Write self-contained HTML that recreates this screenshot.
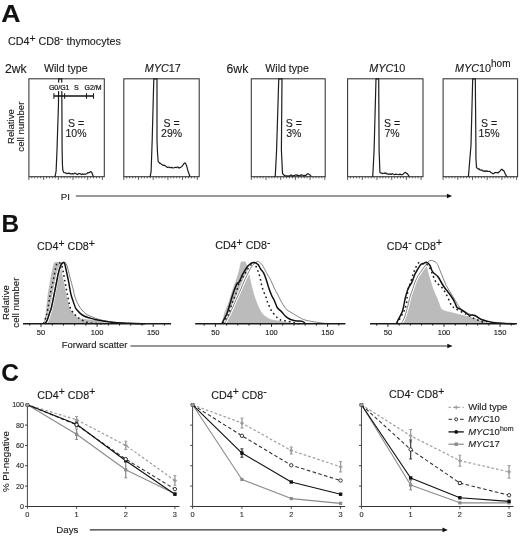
<!DOCTYPE html>
<html><head><meta charset="utf-8"><title>Figure</title>
<style>
html,body{margin:0;padding:0;background:#fff;}
body{width:520px;height:536px;overflow:hidden;}
svg{display:block;font-family:"Liberation Sans", sans-serif;will-change:transform;}
text{stroke:#1b1b1b;stroke-width:0.13px;}
</style></head>
<body>
<svg width="520" height="536" viewBox="0 0 520 536">
<rect width="520" height="536" fill="#fff"/>
<text x="1.3" y="22.0" font-size="24" font-weight="bold" fill="#111" transform="translate(1.3,0) scale(1.11,1) translate(-1.3,0)">A</text>
<text x="8.0" y="45.1" font-size="10.75" fill="#1b1b1b">CD4<tspan font-size="10.4" dy="-3.4">+</tspan><tspan dy="3.4"> CD8</tspan><tspan font-size="10.4" dy="-3.4">-</tspan><tspan dy="3.4"> thymocytes</tspan></text>
<text x="5" y="72.5" font-size="12.2" fill="#1b1b1b">2wk</text>
<text x="226.6" y="72.5" font-size="12.2" fill="#1b1b1b">6wk</text>
<text x="44" y="71.6" font-size="10.6" fill="#1b1b1b">Wild type</text>
<text x="265.3" y="71.6" font-size="10.6" fill="#1b1b1b">Wild type</text>
<text x="144.8" y="72.3" font-size="10.8" fill="#1b1b1b"><tspan font-style="italic">MYC</tspan>17</text>
<text x="369.3" y="72.3" font-size="10.8" fill="#1b1b1b"><tspan font-style="italic">MYC</tspan>10</text>
<text x="455.0" y="72.3" font-size="10.8" fill="#1b1b1b"><tspan font-style="italic">MYC</tspan>10<tspan font-size="10" dy="-5">hom</tspan></text>
<text transform="translate(13.9,126.6) rotate(-90)" font-size="9.7" text-anchor="middle" fill="#1b1b1b">Relative</text>
<text transform="translate(23.5,126.6) rotate(-90)" font-size="9.7" text-anchor="middle" fill="#1b1b1b">cell number</text>
<rect x="28.9" y="78.8" width="75.4" height="97.9" fill="none" stroke="#3a3a3a" stroke-width="1.1"/>
<line x1="28.9" y1="176.7" x2="28.9" y2="179.9" stroke="#333" stroke-width="0.8"/>
<line x1="31.84" y1="176.7" x2="31.84" y2="178.3" stroke="#333" stroke-width="0.8"/>
<line x1="34.78" y1="176.7" x2="34.78" y2="178.3" stroke="#333" stroke-width="0.8"/>
<line x1="37.72" y1="176.7" x2="37.72" y2="178.3" stroke="#333" stroke-width="0.8"/>
<line x1="40.66" y1="176.7" x2="40.66" y2="178.3" stroke="#333" stroke-width="0.8"/>
<line x1="43.6" y1="176.7" x2="43.6" y2="179.9" stroke="#333" stroke-width="0.8"/>
<line x1="46.54" y1="176.7" x2="46.54" y2="178.3" stroke="#333" stroke-width="0.8"/>
<line x1="49.48" y1="176.7" x2="49.48" y2="178.3" stroke="#333" stroke-width="0.8"/>
<line x1="52.42" y1="176.7" x2="52.42" y2="178.3" stroke="#333" stroke-width="0.8"/>
<line x1="55.36" y1="176.7" x2="55.36" y2="178.3" stroke="#333" stroke-width="0.8"/>
<line x1="58.3" y1="176.7" x2="58.3" y2="179.9" stroke="#333" stroke-width="0.8"/>
<line x1="61.24" y1="176.7" x2="61.24" y2="178.3" stroke="#333" stroke-width="0.8"/>
<line x1="64.18" y1="176.7" x2="64.18" y2="178.3" stroke="#333" stroke-width="0.8"/>
<line x1="67.12" y1="176.7" x2="67.12" y2="178.3" stroke="#333" stroke-width="0.8"/>
<line x1="70.06" y1="176.7" x2="70.06" y2="178.3" stroke="#333" stroke-width="0.8"/>
<line x1="73" y1="176.7" x2="73" y2="179.9" stroke="#333" stroke-width="0.8"/>
<line x1="75.94" y1="176.7" x2="75.94" y2="178.3" stroke="#333" stroke-width="0.8"/>
<line x1="78.88" y1="176.7" x2="78.88" y2="178.3" stroke="#333" stroke-width="0.8"/>
<line x1="81.82" y1="176.7" x2="81.82" y2="178.3" stroke="#333" stroke-width="0.8"/>
<line x1="84.76" y1="176.7" x2="84.76" y2="178.3" stroke="#333" stroke-width="0.8"/>
<line x1="87.7" y1="176.7" x2="87.7" y2="179.9" stroke="#333" stroke-width="0.8"/>
<line x1="90.64" y1="176.7" x2="90.64" y2="178.3" stroke="#333" stroke-width="0.8"/>
<line x1="93.58" y1="176.7" x2="93.58" y2="178.3" stroke="#333" stroke-width="0.8"/>
<line x1="96.52" y1="176.7" x2="96.52" y2="178.3" stroke="#333" stroke-width="0.8"/>
<line x1="99.46" y1="176.7" x2="99.46" y2="178.3" stroke="#333" stroke-width="0.8"/>
<line x1="102.4" y1="176.7" x2="102.4" y2="179.9" stroke="#333" stroke-width="0.8"/>
<rect x="123.8" y="78.8" width="75.4" height="97.9" fill="none" stroke="#3a3a3a" stroke-width="1.1"/>
<line x1="123.8" y1="176.7" x2="123.8" y2="179.9" stroke="#333" stroke-width="0.8"/>
<line x1="126.74" y1="176.7" x2="126.74" y2="178.3" stroke="#333" stroke-width="0.8"/>
<line x1="129.68" y1="176.7" x2="129.68" y2="178.3" stroke="#333" stroke-width="0.8"/>
<line x1="132.62" y1="176.7" x2="132.62" y2="178.3" stroke="#333" stroke-width="0.8"/>
<line x1="135.56" y1="176.7" x2="135.56" y2="178.3" stroke="#333" stroke-width="0.8"/>
<line x1="138.5" y1="176.7" x2="138.5" y2="179.9" stroke="#333" stroke-width="0.8"/>
<line x1="141.44" y1="176.7" x2="141.44" y2="178.3" stroke="#333" stroke-width="0.8"/>
<line x1="144.38" y1="176.7" x2="144.38" y2="178.3" stroke="#333" stroke-width="0.8"/>
<line x1="147.32" y1="176.7" x2="147.32" y2="178.3" stroke="#333" stroke-width="0.8"/>
<line x1="150.26" y1="176.7" x2="150.26" y2="178.3" stroke="#333" stroke-width="0.8"/>
<line x1="153.2" y1="176.7" x2="153.2" y2="179.9" stroke="#333" stroke-width="0.8"/>
<line x1="156.14" y1="176.7" x2="156.14" y2="178.3" stroke="#333" stroke-width="0.8"/>
<line x1="159.08" y1="176.7" x2="159.08" y2="178.3" stroke="#333" stroke-width="0.8"/>
<line x1="162.02" y1="176.7" x2="162.02" y2="178.3" stroke="#333" stroke-width="0.8"/>
<line x1="164.96" y1="176.7" x2="164.96" y2="178.3" stroke="#333" stroke-width="0.8"/>
<line x1="167.9" y1="176.7" x2="167.9" y2="179.9" stroke="#333" stroke-width="0.8"/>
<line x1="170.84" y1="176.7" x2="170.84" y2="178.3" stroke="#333" stroke-width="0.8"/>
<line x1="173.78" y1="176.7" x2="173.78" y2="178.3" stroke="#333" stroke-width="0.8"/>
<line x1="176.72" y1="176.7" x2="176.72" y2="178.3" stroke="#333" stroke-width="0.8"/>
<line x1="179.66" y1="176.7" x2="179.66" y2="178.3" stroke="#333" stroke-width="0.8"/>
<line x1="182.6" y1="176.7" x2="182.6" y2="179.9" stroke="#333" stroke-width="0.8"/>
<line x1="185.54" y1="176.7" x2="185.54" y2="178.3" stroke="#333" stroke-width="0.8"/>
<line x1="188.48" y1="176.7" x2="188.48" y2="178.3" stroke="#333" stroke-width="0.8"/>
<line x1="191.42" y1="176.7" x2="191.42" y2="178.3" stroke="#333" stroke-width="0.8"/>
<line x1="194.36" y1="176.7" x2="194.36" y2="178.3" stroke="#333" stroke-width="0.8"/>
<line x1="197.3" y1="176.7" x2="197.3" y2="179.9" stroke="#333" stroke-width="0.8"/>
<rect x="251.3" y="78.8" width="73.9" height="97.9" fill="none" stroke="#3a3a3a" stroke-width="1.1"/>
<line x1="251.3" y1="176.7" x2="251.3" y2="179.9" stroke="#333" stroke-width="0.8"/>
<line x1="254.24" y1="176.7" x2="254.24" y2="178.3" stroke="#333" stroke-width="0.8"/>
<line x1="257.18" y1="176.7" x2="257.18" y2="178.3" stroke="#333" stroke-width="0.8"/>
<line x1="260.12" y1="176.7" x2="260.12" y2="178.3" stroke="#333" stroke-width="0.8"/>
<line x1="263.06" y1="176.7" x2="263.06" y2="178.3" stroke="#333" stroke-width="0.8"/>
<line x1="266" y1="176.7" x2="266" y2="179.9" stroke="#333" stroke-width="0.8"/>
<line x1="268.94" y1="176.7" x2="268.94" y2="178.3" stroke="#333" stroke-width="0.8"/>
<line x1="271.88" y1="176.7" x2="271.88" y2="178.3" stroke="#333" stroke-width="0.8"/>
<line x1="274.82" y1="176.7" x2="274.82" y2="178.3" stroke="#333" stroke-width="0.8"/>
<line x1="277.76" y1="176.7" x2="277.76" y2="178.3" stroke="#333" stroke-width="0.8"/>
<line x1="280.7" y1="176.7" x2="280.7" y2="179.9" stroke="#333" stroke-width="0.8"/>
<line x1="283.64" y1="176.7" x2="283.64" y2="178.3" stroke="#333" stroke-width="0.8"/>
<line x1="286.58" y1="176.7" x2="286.58" y2="178.3" stroke="#333" stroke-width="0.8"/>
<line x1="289.52" y1="176.7" x2="289.52" y2="178.3" stroke="#333" stroke-width="0.8"/>
<line x1="292.46" y1="176.7" x2="292.46" y2="178.3" stroke="#333" stroke-width="0.8"/>
<line x1="295.4" y1="176.7" x2="295.4" y2="179.9" stroke="#333" stroke-width="0.8"/>
<line x1="298.34" y1="176.7" x2="298.34" y2="178.3" stroke="#333" stroke-width="0.8"/>
<line x1="301.28" y1="176.7" x2="301.28" y2="178.3" stroke="#333" stroke-width="0.8"/>
<line x1="304.22" y1="176.7" x2="304.22" y2="178.3" stroke="#333" stroke-width="0.8"/>
<line x1="307.16" y1="176.7" x2="307.16" y2="178.3" stroke="#333" stroke-width="0.8"/>
<line x1="310.1" y1="176.7" x2="310.1" y2="179.9" stroke="#333" stroke-width="0.8"/>
<line x1="313.04" y1="176.7" x2="313.04" y2="178.3" stroke="#333" stroke-width="0.8"/>
<line x1="315.98" y1="176.7" x2="315.98" y2="178.3" stroke="#333" stroke-width="0.8"/>
<line x1="318.92" y1="176.7" x2="318.92" y2="178.3" stroke="#333" stroke-width="0.8"/>
<line x1="321.86" y1="176.7" x2="321.86" y2="178.3" stroke="#333" stroke-width="0.8"/>
<line x1="324.8" y1="176.7" x2="324.8" y2="179.9" stroke="#333" stroke-width="0.8"/>
<rect x="347.6" y="78.8" width="75.4" height="97.9" fill="none" stroke="#3a3a3a" stroke-width="1.1"/>
<line x1="347.6" y1="176.7" x2="347.6" y2="179.9" stroke="#333" stroke-width="0.8"/>
<line x1="350.54" y1="176.7" x2="350.54" y2="178.3" stroke="#333" stroke-width="0.8"/>
<line x1="353.48" y1="176.7" x2="353.48" y2="178.3" stroke="#333" stroke-width="0.8"/>
<line x1="356.42" y1="176.7" x2="356.42" y2="178.3" stroke="#333" stroke-width="0.8"/>
<line x1="359.36" y1="176.7" x2="359.36" y2="178.3" stroke="#333" stroke-width="0.8"/>
<line x1="362.3" y1="176.7" x2="362.3" y2="179.9" stroke="#333" stroke-width="0.8"/>
<line x1="365.24" y1="176.7" x2="365.24" y2="178.3" stroke="#333" stroke-width="0.8"/>
<line x1="368.18" y1="176.7" x2="368.18" y2="178.3" stroke="#333" stroke-width="0.8"/>
<line x1="371.12" y1="176.7" x2="371.12" y2="178.3" stroke="#333" stroke-width="0.8"/>
<line x1="374.06" y1="176.7" x2="374.06" y2="178.3" stroke="#333" stroke-width="0.8"/>
<line x1="377" y1="176.7" x2="377" y2="179.9" stroke="#333" stroke-width="0.8"/>
<line x1="379.94" y1="176.7" x2="379.94" y2="178.3" stroke="#333" stroke-width="0.8"/>
<line x1="382.88" y1="176.7" x2="382.88" y2="178.3" stroke="#333" stroke-width="0.8"/>
<line x1="385.82" y1="176.7" x2="385.82" y2="178.3" stroke="#333" stroke-width="0.8"/>
<line x1="388.76" y1="176.7" x2="388.76" y2="178.3" stroke="#333" stroke-width="0.8"/>
<line x1="391.7" y1="176.7" x2="391.7" y2="179.9" stroke="#333" stroke-width="0.8"/>
<line x1="394.64" y1="176.7" x2="394.64" y2="178.3" stroke="#333" stroke-width="0.8"/>
<line x1="397.58" y1="176.7" x2="397.58" y2="178.3" stroke="#333" stroke-width="0.8"/>
<line x1="400.52" y1="176.7" x2="400.52" y2="178.3" stroke="#333" stroke-width="0.8"/>
<line x1="403.46" y1="176.7" x2="403.46" y2="178.3" stroke="#333" stroke-width="0.8"/>
<line x1="406.4" y1="176.7" x2="406.4" y2="179.9" stroke="#333" stroke-width="0.8"/>
<line x1="409.34" y1="176.7" x2="409.34" y2="178.3" stroke="#333" stroke-width="0.8"/>
<line x1="412.28" y1="176.7" x2="412.28" y2="178.3" stroke="#333" stroke-width="0.8"/>
<line x1="415.22" y1="176.7" x2="415.22" y2="178.3" stroke="#333" stroke-width="0.8"/>
<line x1="418.16" y1="176.7" x2="418.16" y2="178.3" stroke="#333" stroke-width="0.8"/>
<line x1="421.1" y1="176.7" x2="421.1" y2="179.9" stroke="#333" stroke-width="0.8"/>
<rect x="443.1" y="78.8" width="74.5" height="97.9" fill="none" stroke="#3a3a3a" stroke-width="1.1"/>
<line x1="443.1" y1="176.7" x2="443.1" y2="179.9" stroke="#333" stroke-width="0.8"/>
<line x1="446.04" y1="176.7" x2="446.04" y2="178.3" stroke="#333" stroke-width="0.8"/>
<line x1="448.98" y1="176.7" x2="448.98" y2="178.3" stroke="#333" stroke-width="0.8"/>
<line x1="451.92" y1="176.7" x2="451.92" y2="178.3" stroke="#333" stroke-width="0.8"/>
<line x1="454.86" y1="176.7" x2="454.86" y2="178.3" stroke="#333" stroke-width="0.8"/>
<line x1="457.8" y1="176.7" x2="457.8" y2="179.9" stroke="#333" stroke-width="0.8"/>
<line x1="460.74" y1="176.7" x2="460.74" y2="178.3" stroke="#333" stroke-width="0.8"/>
<line x1="463.68" y1="176.7" x2="463.68" y2="178.3" stroke="#333" stroke-width="0.8"/>
<line x1="466.62" y1="176.7" x2="466.62" y2="178.3" stroke="#333" stroke-width="0.8"/>
<line x1="469.56" y1="176.7" x2="469.56" y2="178.3" stroke="#333" stroke-width="0.8"/>
<line x1="472.5" y1="176.7" x2="472.5" y2="179.9" stroke="#333" stroke-width="0.8"/>
<line x1="475.44" y1="176.7" x2="475.44" y2="178.3" stroke="#333" stroke-width="0.8"/>
<line x1="478.38" y1="176.7" x2="478.38" y2="178.3" stroke="#333" stroke-width="0.8"/>
<line x1="481.32" y1="176.7" x2="481.32" y2="178.3" stroke="#333" stroke-width="0.8"/>
<line x1="484.26" y1="176.7" x2="484.26" y2="178.3" stroke="#333" stroke-width="0.8"/>
<line x1="487.2" y1="176.7" x2="487.2" y2="179.9" stroke="#333" stroke-width="0.8"/>
<line x1="490.14" y1="176.7" x2="490.14" y2="178.3" stroke="#333" stroke-width="0.8"/>
<line x1="493.08" y1="176.7" x2="493.08" y2="178.3" stroke="#333" stroke-width="0.8"/>
<line x1="496.02" y1="176.7" x2="496.02" y2="178.3" stroke="#333" stroke-width="0.8"/>
<line x1="498.96" y1="176.7" x2="498.96" y2="178.3" stroke="#333" stroke-width="0.8"/>
<line x1="501.9" y1="176.7" x2="501.9" y2="179.9" stroke="#333" stroke-width="0.8"/>
<line x1="504.84" y1="176.7" x2="504.84" y2="178.3" stroke="#333" stroke-width="0.8"/>
<line x1="507.78" y1="176.7" x2="507.78" y2="178.3" stroke="#333" stroke-width="0.8"/>
<line x1="510.72" y1="176.7" x2="510.72" y2="178.3" stroke="#333" stroke-width="0.8"/>
<line x1="513.66" y1="176.7" x2="513.66" y2="178.3" stroke="#333" stroke-width="0.8"/>
<line x1="516.6" y1="176.7" x2="516.6" y2="179.9" stroke="#333" stroke-width="0.8"/>
<polyline points="54.5,176.7 55.3,175.5 56.1,171.2 57,150 58.45,105 58.7,78.8 61.7,78.8 61.9,105 62.1,150 62.5,166 62.9,170.6 63.8,172.5 64.8,172.8 65.65,172.81 66.5,173.6 67.5,173.42 68.5,173.1 69.5,173.3 70.5,173.9 71.5,173.91 72.5,173.6 73.5,173.91 74.5,173.2 75.5,173.24 76.5,174.1 77.5,174.53 78.5,173.59 79.5,173.48 80.5,173.8 81.38,174.6 82.26,173.88 83.14,174.48 84.02,174 84.9,174.1 85.95,174.06 87,173.6 87.8,172.68 88.6,172.8 89.65,172.35 90.7,171.5 91.8,172.5 93.4,176.7" fill="none" stroke="#1e1e1e" stroke-width="1.2" stroke-linejoin="round"/>
<polyline points="149.5,176.7 150.3,175.8 151.1,171.7 152.2,140 153.8,78.8 157,78.8 157,140 157.5,152.7 158.2,161.7 159,162.2 159.8,163.5 160.65,163.4 161.5,164.5 162.25,164.79 163,165.4 163.8,165.16 164.6,165.3 165.4,166.08 166.2,166.5 167.13,167.29 168.07,167.28 169,167 170,167.7 171,167.6 171.87,167.32 172.73,167.92 173.6,168 174.57,167.53 175.53,167.24 176.5,167.6 177.35,166.98 178.2,167.12 179.05,168.17 179.9,167.5 180.7,167.34 181.5,166.66 182.3,166 183.1,164.9 184.05,163.39 185,162.8 185.75,163.81 186.5,165.4 187.9,170.7 190,176.7" fill="none" stroke="#1e1e1e" stroke-width="1.2" stroke-linejoin="round"/>
<polyline points="274.6,176.7 275.3,175.5 276.6,150 278.75,78.8 282,78.8 281.4,150 282.5,173.3 283.4,174.53 284.3,175.4 285.25,175.8 286.2,175.91 287.15,176.16 288.1,175.89 289.05,176.2 290,175.6 290.83,174.84 291.67,175.45 292.5,176.12 293.33,175.62 294.17,175.95 295,175.3 295.83,174.77 296.67,175.35 297.5,175.07 298.33,175.57 299.17,175.66 300,175.6 300.98,174.81 301.96,175.06 302.94,175.09 303.92,175.98 304.9,175.3 305.7,175.45 306.5,174.8 307.55,173.79 308.6,173.8 309.3,174.75 310,174.8 311.3,176.7" fill="none" stroke="#1e1e1e" stroke-width="1.2" stroke-linejoin="round"/>
<polyline points="372.2,176.7 372.8,175.6 374.1,150 376,78.8 378.7,78.8 379.1,150 379.9,172.2 380.85,173.09 381.8,173.1 382.6,173.66 383.4,173.23 384.2,172.97 385,173.4 385.84,172.79 386.68,173.92 387.52,173.78 388.36,174.35 389.2,174.1 390.15,173.88 391.1,174.46 392.05,173.68 393,174 394,174.55 395,174.54 396,174.17 397,174.4 397.98,174.5 398.96,174.75 399.94,174.06 400.92,174.64 401.9,174.6 402.75,174.61 403.6,173.7 404.6,172.7 405.6,172.4 406.45,173.46 407.3,173.6 409.3,176.7" fill="none" stroke="#1e1e1e" stroke-width="1.2" stroke-linejoin="round"/>
<polyline points="467.8,176.7 468.5,175.6 471,145 472.7,78.8 475.3,78.8 475.9,145 475.9,157.7 476.5,167.8 477.4,168.19 478.3,169.1 479.2,168.94 480.1,170.06 481,170.2 481.8,169.88 482.6,170.9 483.4,170.97 484.2,171.5 485.04,170.84 485.88,171.51 486.72,170.81 487.56,171.4 488.4,171.5 489.27,171.22 490.13,171.62 491,172.6 491.9,172.82 492.8,173.76 493.7,173.6 494.63,172.7 495.57,172.52 496.5,172.6 497.33,172.59 498.17,172.87 499,172 499.97,171.15 500.93,169.91 501.9,169.1 502.8,170.46 503.7,170.4 505.1,173.6 506.9,176.7" fill="none" stroke="#1e1e1e" stroke-width="1.2" stroke-linejoin="round"/>
<rect x="48.6" y="82.6" width="21.2" height="8.5" fill="#fff"/>
<text x="48.9" y="89.5" font-size="7.0" fill="#1b1b1b" style="stroke-width:0.24px">G0/G1</text>
<text x="73.9" y="89.5" font-size="7.0" fill="#1b1b1b" style="stroke-width:0.24px">S</text>
<text x="84.5" y="89.5" font-size="7.0" fill="#1b1b1b" style="stroke-width:0.24px">G2/M</text>
<line x1="53.9" y1="96" x2="93.5" y2="96" stroke="#111" stroke-width="1.3"/>
<line x1="53.9" y1="93.2" x2="53.9" y2="98.8" stroke="#1e1e1e" stroke-width="1.1"/>
<line x1="64.6" y1="93.2" x2="64.6" y2="98.8" stroke="#1e1e1e" stroke-width="1.1"/>
<line x1="86.5" y1="93.2" x2="86.5" y2="98.8" stroke="#1e1e1e" stroke-width="1.1"/>
<line x1="93.5" y1="93.2" x2="93.5" y2="98.8" stroke="#1e1e1e" stroke-width="1.1"/>
<text x="76" y="126.9" font-size="10.5" text-anchor="middle" fill="#1b1b1b">S =</text>
<text x="76" y="137.1" font-size="10.5" text-anchor="middle" fill="#1b1b1b">10%</text>
<text x="171.6" y="126.9" font-size="10.5" text-anchor="middle" fill="#1b1b1b">S =</text>
<text x="171.6" y="137.1" font-size="10.5" text-anchor="middle" fill="#1b1b1b">29%</text>
<text x="293.8" y="126.9" font-size="10.5" text-anchor="middle" fill="#1b1b1b">S =</text>
<text x="293.8" y="137.1" font-size="10.5" text-anchor="middle" fill="#1b1b1b">3%</text>
<text x="392" y="126.9" font-size="10.5" text-anchor="middle" fill="#1b1b1b">S =</text>
<text x="392" y="137.1" font-size="10.5" text-anchor="middle" fill="#1b1b1b">7%</text>
<text x="489.1" y="126.9" font-size="10.5" text-anchor="middle" fill="#1b1b1b">S =</text>
<text x="489.1" y="137.1" font-size="10.5" text-anchor="middle" fill="#1b1b1b">15%</text>
<text x="60.7" y="199.7" font-size="9.7" fill="#1b1b1b">PI</text>
<line x1="75.8" y1="196" x2="447.4" y2="196" stroke="#333" stroke-width="1.2"/>
<polygon points="452.2,196 446.9,193.7 446.9,198.3" fill="#111"/>
<text x="1.5" y="231.8" font-size="24.4" font-weight="bold" fill="#111">B</text>
<text x="37" y="250.1" font-size="10.7" fill="#1b1b1b">CD4<tspan font-size="10.4" dy="-3.4">+</tspan><tspan dy="3.4"> CD8</tspan><tspan font-size="10.4" dy="-3.4">+</tspan></text>
<text x="215.2" y="249.2" font-size="10.7" fill="#1b1b1b">CD4<tspan font-size="10.4" dy="-3.4">+</tspan><tspan dy="3.4"> CD8</tspan><tspan font-size="10.4" dy="-3.4">-</tspan></text>
<text x="386.8" y="249.5" font-size="10.7" fill="#1b1b1b">CD4<tspan font-size="10.4" dy="-3.4">-</tspan><tspan dy="3.4"> CD8</tspan><tspan font-size="10.4" dy="-3.4">+</tspan></text>
<text transform="translate(9.1,302.6) rotate(-90)" font-size="9.7" text-anchor="middle" fill="#1b1b1b">Relative</text>
<text transform="translate(18.7,302.6) rotate(-90)" font-size="9.7" text-anchor="middle" fill="#1b1b1b">cell number</text>
<path d="M42.5,323.8 C42.73,323.33 43.4,322.47 43.9,321 C44.4,319.53 45.03,317.83 45.5,315 C45.97,312.17 46.32,307.5 46.7,304 C47.08,300.5 47.33,297.33 47.8,294 C48.27,290.67 48.95,287.23 49.5,284 C50.05,280.77 50.55,277.43 51.1,274.6 C51.65,271.77 52.25,269 52.8,267 C53.35,265 53.7,263.43 54.4,262.6 C55.1,261.77 56.13,262.07 57,262 C57.87,261.93 58.95,261.95 59.6,262.2 C60.25,262.45 60.57,262.53 60.9,263.5 C61.23,264.47 61.38,266.15 61.6,268 C61.82,269.85 61.83,272.42 62.2,274.6 C62.57,276.78 63.12,277.83 63.8,281.1 C64.48,284.37 65.33,289.83 66.3,294.2 C67.27,298.57 68.65,304.42 69.6,307.3 C70.55,310.18 71.22,310.35 72,311.5 C72.78,312.65 73.42,313.28 74.3,314.2 C75.18,315.12 76.27,316.27 77.3,317 C78.33,317.73 78.72,318.17 80.5,318.6 C82.28,319.03 85.58,319.33 88,319.6 C90.42,319.87 92.5,319.93 95,320.2 C97.5,320.47 100.5,320.85 103,321.2 C105.5,321.55 107.5,321.95 110,322.3 C112.5,322.65 115.5,323.05 118,323.3 C120.5,323.55 123.83,323.72 125,323.8 L125,323.8 L42.5,323.8 Z" fill="#bbbbbb" stroke="none"/>
<path d="M45.5,323.8 C45.83,323.17 46.83,321.63 47.5,320 C48.17,318.37 48.83,316.12 49.5,314 C50.17,311.88 50.75,310.6 51.5,307.3 C52.25,304 53.17,298.57 54,294.2 C54.83,289.83 55.83,284.47 56.5,281.1 C57.17,277.73 57.42,276.18 58,274 C58.58,271.82 59.33,269.67 60,268 C60.67,266.33 61.2,264.97 62,264 C62.8,263.03 64.08,262.2 64.8,262.2 C65.52,262.2 65.82,263.03 66.3,264 C66.78,264.97 67.2,266.25 67.7,268 C68.2,269.75 68.75,272.32 69.3,274.5 C69.85,276.68 70.28,278.35 71,281.1 C71.72,283.85 73.03,288.68 73.6,291 C74.17,293.32 73.98,293.5 74.4,295 C74.82,296.5 75.42,298.33 76.1,300 C76.78,301.67 77.53,303.33 78.5,305 C79.47,306.67 80.65,308.5 81.9,310 C83.15,311.5 84.27,312.83 86,314 C87.73,315.17 90.1,316.08 92.3,317 C94.5,317.92 96.9,318.83 99.2,319.5 C101.5,320.17 103.47,320.48 106.1,321 C108.73,321.52 111.85,322.2 115,322.6 C118.15,323 120.83,323.2 125,323.4 C129.17,323.6 137.5,323.73 140,323.8" fill="none" stroke="#fff" stroke-width="3.0" stroke-linejoin="round"/>
<path d="M45.5,323.8 C45.83,323.17 46.83,321.63 47.5,320 C48.17,318.37 48.83,316.12 49.5,314 C50.17,311.88 50.75,310.6 51.5,307.3 C52.25,304 53.17,298.57 54,294.2 C54.83,289.83 55.83,284.47 56.5,281.1 C57.17,277.73 57.42,276.18 58,274 C58.58,271.82 59.33,269.67 60,268 C60.67,266.33 61.2,264.97 62,264 C62.8,263.03 64.08,262.2 64.8,262.2 C65.52,262.2 65.82,263.03 66.3,264 C66.78,264.97 67.2,266.25 67.7,268 C68.2,269.75 68.75,272.32 69.3,274.5 C69.85,276.68 70.28,278.35 71,281.1 C71.72,283.85 73.03,288.68 73.6,291 C74.17,293.32 73.98,293.5 74.4,295 C74.82,296.5 75.42,298.33 76.1,300 C76.78,301.67 77.53,303.33 78.5,305 C79.47,306.67 80.65,308.5 81.9,310 C83.15,311.5 84.27,312.83 86,314 C87.73,315.17 90.1,316.08 92.3,317 C94.5,317.92 96.9,318.83 99.2,319.5 C101.5,320.17 103.47,320.48 106.1,321 C108.73,321.52 111.85,322.2 115,322.6 C118.15,323 120.83,323.2 125,323.4 C129.17,323.6 137.5,323.73 140,323.8" fill="none" stroke="#7a7a7a" stroke-width="0.95" stroke-linejoin="round"/>
<path d="M43.5,323.8 C43.8,323 44.8,320.45 45.3,319 C45.8,317.55 46.03,317.05 46.5,315.1 C46.97,313.15 47.48,310.78 48.1,307.3 C48.72,303.82 49.37,298.57 50.2,294.2 C51.03,289.83 52.18,285.47 53.1,281.1 C54.02,276.73 55.05,270.93 55.7,268 C56.35,265.07 56.53,264.4 57,263.5 C57.47,262.6 58,262.68 58.5,262.6 C59,262.52 59.55,262.6 60,263 C60.45,263.4 60.8,264.17 61.2,265 C61.6,265.83 61.78,265.32 62.4,268 C63.02,270.68 64.08,276.73 64.9,281.1 C65.72,285.47 66.43,289.83 67.3,294.2 C68.17,298.57 69.27,304.42 70.1,307.3 C70.93,310.18 71.55,310.35 72.3,311.5 C73.05,312.65 73.73,313.28 74.6,314.2 C75.47,315.12 76.52,316.18 77.5,317 C78.48,317.82 79.25,318.35 80.5,319.1 C81.75,319.85 83.42,320.88 85,321.5 C86.58,322.12 88,322.45 90,322.8 C92,323.15 94.5,323.43 97,323.6 C99.5,323.77 103.67,323.77 105,323.8" fill="none" stroke="#1a1a1a" stroke-width="1.5" stroke-dasharray="1.7,2.9" stroke-linejoin="round"/>
<path d="M45,323.8 C45.37,323.17 46.5,321.63 47.2,320 C47.9,318.37 48.48,316.12 49.2,314 C49.92,311.88 50.67,310.6 51.5,307.3 C52.33,304 53.32,298.57 54.2,294.2 C55.08,289.83 56.13,284.47 56.8,281.1 C57.47,277.73 57.7,276.18 58.2,274 C58.7,271.82 59.25,269.67 59.8,268 C60.35,266.33 60.92,264.9 61.5,264 C62.08,263.1 62.78,262.68 63.3,262.6 C63.82,262.52 64.2,262.6 64.6,263.5 C65,264.4 65.28,266.17 65.7,268 C66.12,269.83 66.63,272.32 67.1,274.5 C67.57,276.68 67.87,277.82 68.5,281.1 C69.13,284.38 70.17,290.97 70.9,294.2 C71.63,297.43 72.12,298.2 72.9,300.5 C73.68,302.8 74.83,306.33 75.6,308 C76.37,309.67 76.68,309.57 77.5,310.5 C78.32,311.43 79.42,312.68 80.5,313.6 C81.58,314.52 82.55,315.3 84,316 C85.45,316.7 87.37,317.22 89.2,317.8 C91.03,318.38 92.7,318.97 95,319.5 C97.3,320.03 99.67,320.5 103,321 C106.33,321.5 110.5,322.12 115,322.5 C119.5,322.88 125,323.08 130,323.3 C135,323.52 142.5,323.72 145,323.8" fill="none" stroke="#111" stroke-width="1.5" stroke-linejoin="round"/>
<line x1="23" y1="323.8" x2="171.1" y2="323.8" stroke="#1a1a1a" stroke-width="1.5"/>
<line x1="29.78" y1="323.8" x2="29.78" y2="325.6" stroke="#222" stroke-width="1.0"/>
<line x1="41" y1="323.8" x2="41" y2="326.8" stroke="#222" stroke-width="1.0"/>
<text x="41" y="335.4" font-size="7.5" text-anchor="middle" fill="#1b1b1b">50</text>
<line x1="52.22" y1="323.8" x2="52.22" y2="325.6" stroke="#222" stroke-width="1.0"/>
<line x1="63.44" y1="323.8" x2="63.44" y2="325.6" stroke="#222" stroke-width="1.0"/>
<line x1="74.66" y1="323.8" x2="74.66" y2="325.6" stroke="#222" stroke-width="1.0"/>
<line x1="85.88" y1="323.8" x2="85.88" y2="325.6" stroke="#222" stroke-width="1.0"/>
<line x1="97.1" y1="323.8" x2="97.1" y2="326.8" stroke="#222" stroke-width="1.0"/>
<text x="97.1" y="335.4" font-size="7.5" text-anchor="middle" fill="#1b1b1b">100</text>
<line x1="108.32" y1="323.8" x2="108.32" y2="325.6" stroke="#222" stroke-width="1.0"/>
<line x1="119.54" y1="323.8" x2="119.54" y2="325.6" stroke="#222" stroke-width="1.0"/>
<line x1="130.76" y1="323.8" x2="130.76" y2="325.6" stroke="#222" stroke-width="1.0"/>
<line x1="141.98" y1="323.8" x2="141.98" y2="325.6" stroke="#222" stroke-width="1.0"/>
<line x1="153.2" y1="323.8" x2="153.2" y2="326.8" stroke="#222" stroke-width="1.0"/>
<text x="153.2" y="335.4" font-size="7.5" text-anchor="middle" fill="#1b1b1b">150</text>
<line x1="164.42" y1="323.8" x2="164.42" y2="325.6" stroke="#222" stroke-width="1.0"/>
<path d="M221.3,323.8 C221.55,323 222.28,320.85 222.8,319 C223.32,317.15 223.48,315.35 224.4,312.7 C225.32,310.05 227.17,306.3 228.3,303.1 C229.43,299.9 230.15,296.72 231.2,293.5 C232.25,290.28 233.48,287.02 234.6,283.8 C235.72,280.58 237.03,277.08 237.9,274.2 C238.77,271.32 239.32,268.48 239.8,266.5 C240.28,264.52 240.35,263.12 240.8,262.3 C241.25,261.48 241.88,261.72 242.5,261.6 C243.12,261.48 243.95,261.47 244.5,261.6 C245.05,261.73 245.33,261.58 245.8,262.4 C246.27,263.22 246.7,264.53 247.3,266.5 C247.9,268.47 248.73,271.32 249.4,274.2 C250.07,277.08 250.57,280.58 251.3,283.8 C252.03,287.02 252.83,290.28 253.8,293.5 C254.77,296.72 256.13,300.55 257.1,303.1 C258.07,305.65 258.8,307.2 259.6,308.8 C260.4,310.4 260.87,311.4 261.9,312.7 C262.93,314 264.2,315.47 265.8,316.6 C267.4,317.73 268.63,318.68 271.5,319.5 C274.37,320.32 279.58,320.95 283,321.5 C286.42,322.05 288.83,322.42 292,322.8 C295.17,323.18 300.33,323.63 302,323.8 L302,323.8 L221.3,323.8 Z" fill="#bbbbbb" stroke="none"/>
<path d="M224.5,323.8 C224.79,323.25 225.12,322.72 226.25,320.5 C227.38,318.28 229.58,314.04 231.25,310.5 C232.92,306.96 234.58,303 236.25,299.25 C237.92,295.5 239.79,291.33 241.25,288 C242.71,284.67 243.75,281.96 245,279.25 C246.25,276.54 247.5,274.04 248.75,271.75 C250,269.46 251.11,267.19 252.5,265.5 C253.89,263.81 255.88,262.1 257.1,261.6 C258.32,261.1 258.93,261.93 259.8,262.5 C260.67,263.07 261.18,263.3 262.3,265 C263.42,266.7 265.08,270.13 266.5,272.7 C267.92,275.27 269.52,277.85 270.8,280.4 C272.08,282.95 273,285.57 274.2,288 C275.4,290.43 276.97,293 278,295 C279.03,297 279.52,298.33 280.4,300 C281.28,301.67 282.18,303.33 283.3,305 C284.42,306.67 285.42,308.53 287.1,310 C288.78,311.47 291.38,312.58 293.4,313.8 C295.42,315.02 297.47,316.33 299.2,317.3 C300.93,318.27 302.27,319.02 303.8,319.6 C305.33,320.18 306.67,320.42 308.4,320.8 C310.13,321.18 312.47,321.6 314.2,321.9 C315.93,322.2 317.17,322.37 318.8,322.6 C320.43,322.83 322.13,323.1 324,323.3 C325.87,323.5 329,323.72 330,323.8" fill="none" stroke="#fff" stroke-width="3.0" stroke-linejoin="round"/>
<path d="M224.5,323.8 C224.79,323.25 225.12,322.72 226.25,320.5 C227.38,318.28 229.58,314.04 231.25,310.5 C232.92,306.96 234.58,303 236.25,299.25 C237.92,295.5 239.79,291.33 241.25,288 C242.71,284.67 243.75,281.96 245,279.25 C246.25,276.54 247.5,274.04 248.75,271.75 C250,269.46 251.11,267.19 252.5,265.5 C253.89,263.81 255.88,262.1 257.1,261.6 C258.32,261.1 258.93,261.93 259.8,262.5 C260.67,263.07 261.18,263.3 262.3,265 C263.42,266.7 265.08,270.13 266.5,272.7 C267.92,275.27 269.52,277.85 270.8,280.4 C272.08,282.95 273,285.57 274.2,288 C275.4,290.43 276.97,293 278,295 C279.03,297 279.52,298.33 280.4,300 C281.28,301.67 282.18,303.33 283.3,305 C284.42,306.67 285.42,308.53 287.1,310 C288.78,311.47 291.38,312.58 293.4,313.8 C295.42,315.02 297.47,316.33 299.2,317.3 C300.93,318.27 302.27,319.02 303.8,319.6 C305.33,320.18 306.67,320.42 308.4,320.8 C310.13,321.18 312.47,321.6 314.2,321.9 C315.93,322.2 317.17,322.37 318.8,322.6 C320.43,322.83 322.13,323.1 324,323.3 C325.87,323.5 329,323.72 330,323.8" fill="none" stroke="#7a7a7a" stroke-width="0.95" stroke-linejoin="round"/>
<path d="M223.3,323.8 C223.75,322.92 225.02,320.35 226,318.5 C226.98,316.65 228.18,315.27 229.2,312.7 C230.22,310.13 230.97,306.3 232.1,303.1 C233.23,299.9 234.88,296.72 236,293.5 C237.12,290.28 237.88,286.22 238.8,283.8 C239.72,281.38 240.53,280.6 241.5,279 C242.47,277.4 243.43,276.03 244.6,274.2 C245.77,272.37 247.27,269.7 248.5,268 C249.73,266.3 250.92,264.87 252,264 C253.08,263.13 254.25,262.17 255,262.8 C255.75,263.43 255.92,266.2 256.5,267.8 C257.08,269.4 257.95,270.87 258.5,272.4 C259.05,273.93 259.38,275.4 259.8,277 C260.22,278.6 260.62,280.33 261,282 C261.38,283.67 261.63,285.33 262.1,287 C262.57,288.67 263.18,290.42 263.8,292 C264.42,293.58 265.25,295 265.8,296.5 C266.35,298 266.57,299.48 267.1,301 C267.63,302.52 268.31,304.03 269,305.6 C269.69,307.17 270.23,308.8 271.25,310.4 C272.27,312 273.66,313.63 275.1,315.2 C276.54,316.77 277.82,318.8 279.9,319.8 C281.98,320.8 285.08,320.68 287.6,321.2 C290.12,321.72 292.93,322.47 295,322.9 C297.07,323.33 299.17,323.65 300,323.8" fill="none" stroke="#1a1a1a" stroke-width="1.5" stroke-dasharray="1.7,2.9" stroke-linejoin="round"/>
<path d="M221.8,323.8 C222.25,322.92 223.58,320.35 224.5,318.5 C225.42,316.65 226.35,315.27 227.3,312.7 C228.25,310.13 229.23,306.3 230.2,303.1 C231.17,299.9 231.98,296.72 233.1,293.5 C234.22,290.28 236,285.57 236.9,283.8 C237.8,282.03 237.9,283.7 238.5,282.9 C239.1,282.1 239.8,280.45 240.5,279 C241.2,277.55 241.53,276.28 242.7,274.2 C243.87,272.12 246.15,268.28 247.5,266.5 C248.85,264.72 249.72,264.18 250.8,263.5 C251.88,262.82 253.05,262.43 254,262.4 C254.95,262.37 255.75,262.87 256.5,263.3 C257.25,263.73 257.83,264.08 258.5,265 C259.17,265.92 259.67,267.52 260.5,268.8 C261.33,270.08 262.5,270.77 263.5,272.7 C264.5,274.63 265.62,277.85 266.5,280.4 C267.38,282.95 267.9,285.4 268.8,288 C269.7,290.6 271.02,294 271.9,296 C272.78,298 273.4,298.5 274.1,300 C274.8,301.5 275.53,303.67 276.1,305 C276.67,306.33 276.55,306.83 277.5,308 C278.45,309.17 280.52,310.67 281.8,312 C283.08,313.33 283.92,314.83 285.2,316 C286.48,317.17 288.07,318.25 289.5,319 C290.93,319.75 292.38,320.17 293.8,320.5 C295.22,320.83 296.55,320.85 298,321 C299.45,321.15 301.25,320.93 302.5,321.4 C303.75,321.87 305,323.4 305.5,323.8" fill="none" stroke="#111" stroke-width="1.5" stroke-linejoin="round"/>
<line x1="195.2" y1="323.8" x2="345.4" y2="323.8" stroke="#1a1a1a" stroke-width="1.5"/>
<line x1="204.18" y1="323.8" x2="204.18" y2="325.6" stroke="#222" stroke-width="1.0"/>
<line x1="215.4" y1="323.8" x2="215.4" y2="326.8" stroke="#222" stroke-width="1.0"/>
<text x="215.4" y="335.4" font-size="7.5" text-anchor="middle" fill="#1b1b1b">50</text>
<line x1="226.62" y1="323.8" x2="226.62" y2="325.6" stroke="#222" stroke-width="1.0"/>
<line x1="237.84" y1="323.8" x2="237.84" y2="325.6" stroke="#222" stroke-width="1.0"/>
<line x1="249.06" y1="323.8" x2="249.06" y2="325.6" stroke="#222" stroke-width="1.0"/>
<line x1="260.28" y1="323.8" x2="260.28" y2="325.6" stroke="#222" stroke-width="1.0"/>
<line x1="271.5" y1="323.8" x2="271.5" y2="326.8" stroke="#222" stroke-width="1.0"/>
<text x="271.5" y="335.4" font-size="7.5" text-anchor="middle" fill="#1b1b1b">100</text>
<line x1="282.72" y1="323.8" x2="282.72" y2="325.6" stroke="#222" stroke-width="1.0"/>
<line x1="293.94" y1="323.8" x2="293.94" y2="325.6" stroke="#222" stroke-width="1.0"/>
<line x1="305.16" y1="323.8" x2="305.16" y2="325.6" stroke="#222" stroke-width="1.0"/>
<line x1="316.38" y1="323.8" x2="316.38" y2="325.6" stroke="#222" stroke-width="1.0"/>
<line x1="327.6" y1="323.8" x2="327.6" y2="326.8" stroke="#222" stroke-width="1.0"/>
<text x="327.6" y="335.4" font-size="7.5" text-anchor="middle" fill="#1b1b1b">150</text>
<line x1="338.82" y1="323.8" x2="338.82" y2="325.6" stroke="#222" stroke-width="1.0"/>
<path d="M399.2,323.8 C399.63,323.33 400.87,322.05 401.8,321 C402.73,319.95 403.98,319.17 404.8,317.5 C405.62,315.83 406.13,313 406.7,311 C407.27,309 407.57,307.97 408.2,305.5 C408.83,303.03 409.7,299 410.5,296.2 C411.3,293.4 412.22,291.05 413,288.7 C413.78,286.35 414.3,284.28 415.2,282.1 C416.1,279.92 417.35,277.62 418.4,275.6 C419.45,273.58 420.65,271.52 421.5,270 C422.35,268.48 422.85,267.3 423.5,266.5 C424.15,265.7 424.85,265.16 425.4,265.2 C425.95,265.24 426.1,264.82 426.8,266.75 C427.5,268.68 428.48,273 429.6,276.75 C430.72,280.5 432.23,285.71 433.5,289.25 C434.77,292.79 436.1,295.29 437.2,298 C438.3,300.71 439.38,303.7 440.1,305.5 C440.82,307.3 440.68,307.92 441.5,308.8 C442.32,309.68 443.72,310.3 445,310.8 C446.28,311.3 446.7,311.18 449.2,311.8 C451.7,312.42 456.4,313.65 460,314.5 C463.6,315.35 467.47,315.98 470.8,316.9 C474.13,317.82 477.47,319.02 480,320 C482.53,320.98 484.17,322.17 486,322.8 C487.83,323.43 490.17,323.63 491,323.8 L491,323.8 L399.2,323.8 Z" fill="#bbbbbb" stroke="none"/>
<path d="M401,323.8 C401.33,323.25 402.4,321.63 403,320.5 C403.6,319.37 404.02,318.58 404.6,317 C405.18,315.42 405.95,312.92 406.5,311 C407.05,309.08 407.28,307.97 407.9,305.5 C408.52,303.03 409.38,299 410.2,296.2 C411.02,293.4 412,291.05 412.8,288.7 C413.6,286.35 414.1,284.28 415,282.1 C415.9,279.92 417.03,277.62 418.2,275.6 C419.37,273.58 420.7,271.85 422,270 C423.3,268.15 424.67,266.08 426,264.5 C427.33,262.92 428.5,260.96 430,260.5 C431.5,260.04 433.75,261.12 435,261.75 C436.25,262.38 436.67,262.79 437.5,264.25 C438.33,265.71 439.07,268.21 440,270.5 C440.93,272.79 442.06,275.5 443.1,278 C444.14,280.5 445.1,283.21 446.25,285.5 C447.4,287.79 448.75,289.67 450,291.75 C451.25,293.83 452.5,295.92 453.75,298 C455,300.08 456.25,302.38 457.5,304.25 C458.75,306.12 460,308 461.25,309.25 C462.5,310.5 463.54,310.92 465,311.75 C466.46,312.58 468.33,313.52 470,314.25 C471.67,314.98 473.33,315.39 475,316.1 C476.67,316.81 478.17,317.75 480,318.5 C481.83,319.25 483.67,319.93 486,320.6 C488.33,321.27 490.83,322.03 494,322.5 C497.17,322.97 501.5,323.18 505,323.4 C508.5,323.62 513.33,323.73 515,323.8" fill="none" stroke="#fff" stroke-width="3.0" stroke-linejoin="round"/>
<path d="M401,323.8 C401.33,323.25 402.4,321.63 403,320.5 C403.6,319.37 404.02,318.58 404.6,317 C405.18,315.42 405.95,312.92 406.5,311 C407.05,309.08 407.28,307.97 407.9,305.5 C408.52,303.03 409.38,299 410.2,296.2 C411.02,293.4 412,291.05 412.8,288.7 C413.6,286.35 414.1,284.28 415,282.1 C415.9,279.92 417.03,277.62 418.2,275.6 C419.37,273.58 420.7,271.85 422,270 C423.3,268.15 424.67,266.08 426,264.5 C427.33,262.92 428.5,260.96 430,260.5 C431.5,260.04 433.75,261.12 435,261.75 C436.25,262.38 436.67,262.79 437.5,264.25 C438.33,265.71 439.07,268.21 440,270.5 C440.93,272.79 442.06,275.5 443.1,278 C444.14,280.5 445.1,283.21 446.25,285.5 C447.4,287.79 448.75,289.67 450,291.75 C451.25,293.83 452.5,295.92 453.75,298 C455,300.08 456.25,302.38 457.5,304.25 C458.75,306.12 460,308 461.25,309.25 C462.5,310.5 463.54,310.92 465,311.75 C466.46,312.58 468.33,313.52 470,314.25 C471.67,314.98 473.33,315.39 475,316.1 C476.67,316.81 478.17,317.75 480,318.5 C481.83,319.25 483.67,319.93 486,320.6 C488.33,321.27 490.83,322.03 494,322.5 C497.17,322.97 501.5,323.18 505,323.4 C508.5,323.62 513.33,323.73 515,323.8" fill="none" stroke="#7a7a7a" stroke-width="0.95" stroke-linejoin="round"/>
<path d="M397,323.8 C397.5,322.92 398.98,320.35 400,318.5 C401.02,316.65 402.28,314.23 403.1,312.7 C403.92,311.17 404.45,310.42 404.9,309.3 C405.35,308.18 405.45,307.42 405.8,306 C406.15,304.58 406.77,302.6 407,300.8 C407.23,299 406.95,297.33 407.2,295.2 C407.45,293.07 408,289.9 408.5,288 C409,286.1 409.43,286.1 410.2,283.8 C410.97,281.5 412.22,276.83 413.1,274.2 C413.98,271.57 414.55,269.92 415.5,268 C416.45,266.08 417.8,263.45 418.8,262.7 C419.8,261.95 420.55,263.2 421.5,263.5 C422.45,263.8 423.5,264.25 424.5,264.5 C425.5,264.75 426.58,264.33 427.5,265 C428.42,265.67 429.25,267.17 430,268.5 C430.75,269.83 431.38,271.52 432,273 C432.62,274.48 433.04,275.83 433.75,277.4 C434.46,278.97 435,280.84 436.25,282.4 C437.5,283.96 439.89,285.3 441.25,286.75 C442.61,288.2 443.46,289.64 444.4,291.1 C445.34,292.56 446.07,293.83 446.9,295.5 C447.73,297.17 448.63,299.43 449.4,301.1 C450.17,302.77 450.57,304.3 451.5,305.5 C452.43,306.7 453.17,307.15 455,308.3 C456.83,309.45 460.21,311.2 462.5,312.4 C464.79,313.6 466.83,314.48 468.75,315.5 C470.67,316.52 472.12,317.58 474,318.5 C475.88,319.42 478,320.22 480,321 C482,321.78 484.33,322.73 486,323.2 C487.67,323.67 489.33,323.7 490,323.8" fill="none" stroke="#1a1a1a" stroke-width="1.5" stroke-dasharray="1.7,2.9" stroke-linejoin="round"/>
<path d="M396.3,323.8 C396.63,323.08 397.27,321.62 398.3,319.5 C399.33,317.38 401.33,314.68 402.5,311.1 C403.67,307.52 404.37,301.73 405.3,298 C406.23,294.27 407,291.35 408.1,288.7 C409.2,286.05 410.8,284.43 411.9,282.1 C413,279.77 413.85,276.63 414.7,274.7 C415.55,272.77 415.98,272.18 417,270.5 C418.02,268.82 419.67,265.78 420.8,264.6 C421.93,263.42 422.78,263.77 423.8,263.4 C424.82,263.03 425.87,262.05 426.9,262.4 C427.93,262.75 429.17,264.15 430,265.5 C430.83,266.85 431.27,269.25 431.9,270.5 C432.52,271.75 432.73,271.96 433.75,273 C434.77,274.04 436.69,275.08 438,276.75 C439.31,278.42 440.47,281.12 441.6,283 C442.73,284.88 443.77,286.54 444.8,288 C445.83,289.46 446.83,290.5 447.8,291.75 C448.77,293 449.72,294.25 450.6,295.5 C451.48,296.75 452.37,298 453.1,299.25 C453.83,300.5 454.37,301.68 455,303 C455.63,304.32 456.17,306.27 456.9,307.2 C457.63,308.13 458.47,308.05 459.4,308.6 C460.33,309.15 461.36,309.77 462.5,310.5 C463.64,311.23 465.1,312.2 466.25,313 C467.4,313.8 468.36,314.98 469.4,315.3 C470.44,315.62 471.57,314.87 472.5,314.9 C473.43,314.93 474.08,315.07 475,315.5 C475.92,315.93 476.75,316.75 478,317.5 C479.25,318.25 480.83,319.33 482.5,320 C484.17,320.67 485.92,321.03 488,321.5 C490.08,321.97 492.17,322.47 495,322.8 C497.83,323.13 501.67,323.33 505,323.5 C508.33,323.67 513.33,323.75 515,323.8" fill="none" stroke="#111" stroke-width="1.5" stroke-linejoin="round"/>
<line x1="370" y1="323.8" x2="516.9" y2="323.8" stroke="#1a1a1a" stroke-width="1.5"/>
<line x1="376.68" y1="323.8" x2="376.68" y2="325.6" stroke="#222" stroke-width="1.0"/>
<line x1="387.9" y1="323.8" x2="387.9" y2="326.8" stroke="#222" stroke-width="1.0"/>
<text x="387.9" y="335.4" font-size="7.5" text-anchor="middle" fill="#1b1b1b">50</text>
<line x1="399.12" y1="323.8" x2="399.12" y2="325.6" stroke="#222" stroke-width="1.0"/>
<line x1="410.34" y1="323.8" x2="410.34" y2="325.6" stroke="#222" stroke-width="1.0"/>
<line x1="421.56" y1="323.8" x2="421.56" y2="325.6" stroke="#222" stroke-width="1.0"/>
<line x1="432.78" y1="323.8" x2="432.78" y2="325.6" stroke="#222" stroke-width="1.0"/>
<line x1="444" y1="323.8" x2="444" y2="326.8" stroke="#222" stroke-width="1.0"/>
<text x="444" y="335.4" font-size="7.5" text-anchor="middle" fill="#1b1b1b">100</text>
<line x1="455.22" y1="323.8" x2="455.22" y2="325.6" stroke="#222" stroke-width="1.0"/>
<line x1="466.44" y1="323.8" x2="466.44" y2="325.6" stroke="#222" stroke-width="1.0"/>
<line x1="477.66" y1="323.8" x2="477.66" y2="325.6" stroke="#222" stroke-width="1.0"/>
<line x1="488.88" y1="323.8" x2="488.88" y2="325.6" stroke="#222" stroke-width="1.0"/>
<line x1="500.1" y1="323.8" x2="500.1" y2="326.8" stroke="#222" stroke-width="1.0"/>
<text x="500.1" y="335.4" font-size="7.5" text-anchor="middle" fill="#1b1b1b">150</text>
<line x1="511.32" y1="323.8" x2="511.32" y2="325.6" stroke="#222" stroke-width="1.0"/>
<text x="61.8" y="348.3" font-size="9.45" fill="#1b1b1b">Forward scatter</text>
<line x1="130.4" y1="346" x2="447.8" y2="346" stroke="#333" stroke-width="1.2"/>
<polygon points="452.6,346 447.3,343.7 447.3,348.3" fill="#111"/>
<text x="1.2" y="380.9" font-size="24.4" font-weight="bold" fill="#111">C</text>
<text x="37.3" y="398.5" font-size="10.7" fill="#1b1b1b">CD4<tspan font-size="10.4" dy="-3.4">+</tspan><tspan dy="3.4"> CD8</tspan><tspan font-size="10.4" dy="-3.4">+</tspan></text>
<text x="211.3" y="398.5" font-size="10.7" fill="#1b1b1b">CD4<tspan font-size="10.4" dy="-3.4">+</tspan><tspan dy="3.4"> CD8</tspan><tspan font-size="10.4" dy="-3.4">-</tspan></text>
<text x="389" y="398.4" font-size="10.7" fill="#1b1b1b">CD4<tspan font-size="10.4" dy="-3.4">-</tspan><tspan dy="3.4"> CD8</tspan><tspan font-size="10.4" dy="-3.4">+</tspan></text>
<text transform="translate(9.2,461.6) rotate(-90)" font-size="9.8" text-anchor="middle" fill="#1b1b1b">% PI-negative</text>
<line x1="27.4" y1="404.8" x2="27.4" y2="506.8" stroke="#444" stroke-width="1.0"/>
<line x1="27.4" y1="506.5" x2="179.41" y2="506.5" stroke="#333" stroke-width="1.0"/>
<line x1="25" y1="506.4" x2="27.4" y2="506.4" stroke="#444" stroke-width="1.0"/>
<line x1="25" y1="486.08" x2="27.4" y2="486.08" stroke="#444" stroke-width="1.0"/>
<line x1="25" y1="465.76" x2="27.4" y2="465.76" stroke="#444" stroke-width="1.0"/>
<line x1="25" y1="445.44" x2="27.4" y2="445.44" stroke="#444" stroke-width="1.0"/>
<line x1="25" y1="425.12" x2="27.4" y2="425.12" stroke="#444" stroke-width="1.0"/>
<line x1="25" y1="404.8" x2="27.4" y2="404.8" stroke="#444" stroke-width="1.0"/>
<line x1="27.4" y1="506.4" x2="27.4" y2="508.8" stroke="#444" stroke-width="1.0"/>
<text x="27.4" y="517" font-size="7.4" text-anchor="middle" fill="#333">0</text>
<line x1="76.57" y1="506.4" x2="76.57" y2="508.8" stroke="#444" stroke-width="1.0"/>
<text x="76.57" y="517" font-size="7.4" text-anchor="middle" fill="#333">1</text>
<line x1="125.74" y1="506.4" x2="125.74" y2="508.8" stroke="#444" stroke-width="1.0"/>
<text x="125.74" y="517" font-size="7.4" text-anchor="middle" fill="#333">2</text>
<line x1="174.91" y1="506.4" x2="174.91" y2="508.8" stroke="#444" stroke-width="1.0"/>
<text x="174.91" y="517" font-size="7.4" text-anchor="middle" fill="#333">3</text>
<text x="24" y="508.9" font-size="7.1" text-anchor="end" fill="#333">0</text>
<text x="24" y="488.58" font-size="7.1" text-anchor="end" fill="#333">20</text>
<text x="24" y="468.26" font-size="7.1" text-anchor="end" fill="#333">40</text>
<text x="24" y="447.94" font-size="7.1" text-anchor="end" fill="#333">60</text>
<text x="24" y="427.62" font-size="7.1" text-anchor="end" fill="#333">80</text>
<text x="24" y="407.3" font-size="7.1" text-anchor="end" fill="#333">100</text>
<polyline points="27.4,404.8 76.57,434.26 125.74,469.82 174.91,493.7" fill="none" stroke="#8a8a8a" stroke-width="1.1" stroke-linejoin="round"/>
<polyline points="27.4,404.8 76.57,419.74 125.74,445.44 174.91,480.49" fill="none" stroke="#9a9a9a" stroke-width="1.15" stroke-dasharray="2.6,2.1" stroke-linejoin="round"/>
<polyline points="27.4,404.8 76.57,424.82 125.74,459.16 174.91,489.13" fill="none" stroke="#333" stroke-width="1.1" stroke-dasharray="3.6,2.4" stroke-linejoin="round"/>
<polyline points="27.4,404.8 76.57,424.31 125.74,460.68 174.91,494.21" fill="none" stroke="#111" stroke-width="1.15" stroke-linejoin="round"/>
<line x1="76.57" y1="416.44" x2="76.57" y2="423.04" stroke="#9a9a9a" stroke-width="1.25"/>
<line x1="75.07" y1="416.44" x2="78.07" y2="416.44" stroke="#9a9a9a" stroke-width="1.0"/>
<line x1="75.07" y1="423.04" x2="78.07" y2="423.04" stroke="#9a9a9a" stroke-width="1.0"/>
<line x1="125.74" y1="441.24" x2="125.74" y2="449.64" stroke="#9a9a9a" stroke-width="1.25"/>
<line x1="124.24" y1="441.24" x2="127.24" y2="441.24" stroke="#9a9a9a" stroke-width="1.0"/>
<line x1="124.24" y1="449.64" x2="127.24" y2="449.64" stroke="#9a9a9a" stroke-width="1.0"/>
<line x1="174.91" y1="475.69" x2="174.91" y2="485.29" stroke="#9a9a9a" stroke-width="1.25"/>
<line x1="173.41" y1="475.69" x2="176.41" y2="475.69" stroke="#9a9a9a" stroke-width="1.0"/>
<line x1="173.41" y1="485.29" x2="176.41" y2="485.29" stroke="#9a9a9a" stroke-width="1.0"/>
<line x1="76.57" y1="428.96" x2="76.57" y2="439.56" stroke="#8a8a8a" stroke-width="1.25"/>
<line x1="75.07" y1="428.96" x2="78.07" y2="428.96" stroke="#8a8a8a" stroke-width="1.0"/>
<line x1="75.07" y1="439.56" x2="78.07" y2="439.56" stroke="#8a8a8a" stroke-width="1.0"/>
<line x1="125.74" y1="461.82" x2="125.74" y2="477.82" stroke="#8a8a8a" stroke-width="1.25"/>
<line x1="124.24" y1="461.82" x2="127.24" y2="461.82" stroke="#8a8a8a" stroke-width="1.0"/>
<line x1="124.24" y1="477.82" x2="127.24" y2="477.82" stroke="#8a8a8a" stroke-width="1.0"/>
<line x1="76.57" y1="421.81" x2="76.57" y2="426.81" stroke="#333" stroke-width="1.25"/>
<line x1="75.07" y1="421.81" x2="78.07" y2="421.81" stroke="#333" stroke-width="1.0"/>
<line x1="75.07" y1="426.81" x2="78.07" y2="426.81" stroke="#333" stroke-width="1.0"/>
<rect x="25.8" y="403.2" width="3.2" height="3.2" fill="#8a8a8a"/>
<rect x="74.97" y="432.66" width="3.2" height="3.2" fill="#8a8a8a"/>
<rect x="124.14" y="468.22" width="3.2" height="3.2" fill="#8a8a8a"/>
<rect x="173.31" y="492.1" width="3.2" height="3.2" fill="#8a8a8a"/>
<path d="M25.5,404.8 L29.3,404.8 M27.4,402.9 L27.4,406.7" stroke="#9a9a9a" stroke-width="1.3"/>
<path d="M74.67,419.74 L78.47,419.74 M76.57,417.84 L76.57,421.64" stroke="#9a9a9a" stroke-width="1.3"/>
<path d="M123.84,445.44 L127.64,445.44 M125.74,443.54 L125.74,447.34" stroke="#9a9a9a" stroke-width="1.3"/>
<path d="M173.01,480.49 L176.81,480.49 M174.91,478.59 L174.91,482.39" stroke="#9a9a9a" stroke-width="1.3"/>
<rect x="25.7" y="403.1" width="3.4" height="3.4" fill="#111"/>
<rect x="74.87" y="422.61" width="3.4" height="3.4" fill="#111"/>
<rect x="124.04" y="458.98" width="3.4" height="3.4" fill="#111"/>
<rect x="173.21" y="492.51" width="3.4" height="3.4" fill="#111"/>
<circle cx="76.57" cy="424.82" r="1.7" fill="#fff" stroke="#222" stroke-width="0.9"/>
<circle cx="125.74" cy="459.16" r="1.7" fill="#fff" stroke="#222" stroke-width="0.9"/>
<circle cx="174.91" cy="489.13" r="1.7" fill="#fff" stroke="#222" stroke-width="0.9"/>
<circle cx="27.4" cy="404.8" r="1.8" fill="#999"/>
<line x1="192.6" y1="404.8" x2="192.6" y2="506.8" stroke="#444" stroke-width="1.0"/>
<line x1="192.6" y1="506.5" x2="345.09" y2="506.5" stroke="#333" stroke-width="1.0"/>
<line x1="190.2" y1="506.4" x2="192.6" y2="506.4" stroke="#444" stroke-width="1.0"/>
<line x1="190.2" y1="486.08" x2="192.6" y2="486.08" stroke="#444" stroke-width="1.0"/>
<line x1="190.2" y1="465.76" x2="192.6" y2="465.76" stroke="#444" stroke-width="1.0"/>
<line x1="190.2" y1="445.44" x2="192.6" y2="445.44" stroke="#444" stroke-width="1.0"/>
<line x1="190.2" y1="425.12" x2="192.6" y2="425.12" stroke="#444" stroke-width="1.0"/>
<line x1="190.2" y1="404.8" x2="192.6" y2="404.8" stroke="#444" stroke-width="1.0"/>
<line x1="192.6" y1="506.4" x2="192.6" y2="508.8" stroke="#444" stroke-width="1.0"/>
<text x="192.6" y="517" font-size="7.4" text-anchor="middle" fill="#333">0</text>
<line x1="241.93" y1="506.4" x2="241.93" y2="508.8" stroke="#444" stroke-width="1.0"/>
<text x="241.93" y="517" font-size="7.4" text-anchor="middle" fill="#333">1</text>
<line x1="291.26" y1="506.4" x2="291.26" y2="508.8" stroke="#444" stroke-width="1.0"/>
<text x="291.26" y="517" font-size="7.4" text-anchor="middle" fill="#333">2</text>
<line x1="340.59" y1="506.4" x2="340.59" y2="508.8" stroke="#444" stroke-width="1.0"/>
<text x="340.59" y="517" font-size="7.4" text-anchor="middle" fill="#333">3</text>
<polyline points="192.6,404.8 241.93,479.48 291.26,498.58 340.59,503.35" fill="none" stroke="#8a8a8a" stroke-width="1.1" stroke-linejoin="round"/>
<polyline points="192.6,404.8 241.93,423.09 291.26,450.52 340.59,466.78" fill="none" stroke="#9a9a9a" stroke-width="1.15" stroke-dasharray="2.6,2.1" stroke-linejoin="round"/>
<polyline points="192.6,404.8 241.93,435.79 291.26,465.25 340.59,480.49" fill="none" stroke="#333" stroke-width="1.1" stroke-dasharray="3.6,2.4" stroke-linejoin="round"/>
<polyline points="192.6,404.8 241.93,453.06 291.26,482.02 340.59,494.21" fill="none" stroke="#111" stroke-width="1.15" stroke-linejoin="round"/>
<line x1="241.93" y1="418.09" x2="241.93" y2="428.09" stroke="#9a9a9a" stroke-width="1.25"/>
<line x1="240.43" y1="418.09" x2="243.43" y2="418.09" stroke="#9a9a9a" stroke-width="1.0"/>
<line x1="240.43" y1="428.09" x2="243.43" y2="428.09" stroke="#9a9a9a" stroke-width="1.0"/>
<line x1="291.26" y1="447.02" x2="291.26" y2="454.02" stroke="#9a9a9a" stroke-width="1.25"/>
<line x1="289.76" y1="447.02" x2="292.76" y2="447.02" stroke="#9a9a9a" stroke-width="1.0"/>
<line x1="289.76" y1="454.02" x2="292.76" y2="454.02" stroke="#9a9a9a" stroke-width="1.0"/>
<line x1="340.59" y1="461.58" x2="340.59" y2="471.98" stroke="#9a9a9a" stroke-width="1.25"/>
<line x1="339.09" y1="461.58" x2="342.09" y2="461.58" stroke="#9a9a9a" stroke-width="1.0"/>
<line x1="339.09" y1="471.98" x2="342.09" y2="471.98" stroke="#9a9a9a" stroke-width="1.0"/>
<line x1="241.93" y1="448.86" x2="241.93" y2="457.26" stroke="#333" stroke-width="1.25"/>
<line x1="240.43" y1="448.86" x2="243.43" y2="448.86" stroke="#333" stroke-width="1.0"/>
<line x1="240.43" y1="457.26" x2="243.43" y2="457.26" stroke="#333" stroke-width="1.0"/>
<rect x="191" y="403.2" width="3.2" height="3.2" fill="#8a8a8a"/>
<rect x="240.33" y="477.88" width="3.2" height="3.2" fill="#8a8a8a"/>
<rect x="289.66" y="496.98" width="3.2" height="3.2" fill="#8a8a8a"/>
<rect x="338.99" y="501.75" width="3.2" height="3.2" fill="#8a8a8a"/>
<path d="M190.7,404.8 L194.5,404.8 M192.6,402.9 L192.6,406.7" stroke="#9a9a9a" stroke-width="1.3"/>
<path d="M240.03,423.09 L243.83,423.09 M241.93,421.19 L241.93,424.99" stroke="#9a9a9a" stroke-width="1.3"/>
<path d="M289.36,450.52 L293.16,450.52 M291.26,448.62 L291.26,452.42" stroke="#9a9a9a" stroke-width="1.3"/>
<path d="M338.69,466.78 L342.49,466.78 M340.59,464.88 L340.59,468.68" stroke="#9a9a9a" stroke-width="1.3"/>
<rect x="190.9" y="403.1" width="3.4" height="3.4" fill="#111"/>
<rect x="240.23" y="451.36" width="3.4" height="3.4" fill="#111"/>
<rect x="289.56" y="480.32" width="3.4" height="3.4" fill="#111"/>
<rect x="338.89" y="492.51" width="3.4" height="3.4" fill="#111"/>
<circle cx="241.93" cy="435.79" r="1.7" fill="#fff" stroke="#222" stroke-width="0.9"/>
<circle cx="291.26" cy="465.25" r="1.7" fill="#fff" stroke="#222" stroke-width="0.9"/>
<circle cx="340.59" cy="480.49" r="1.7" fill="#fff" stroke="#222" stroke-width="0.9"/>
<circle cx="192.6" cy="404.8" r="1.8" fill="#999"/>
<line x1="361.45" y1="404.8" x2="361.45" y2="506.8" stroke="#444" stroke-width="1.0"/>
<line x1="361.45" y1="506.5" x2="513.55" y2="506.5" stroke="#333" stroke-width="1.0"/>
<line x1="359.05" y1="506.4" x2="361.45" y2="506.4" stroke="#444" stroke-width="1.0"/>
<line x1="359.05" y1="486.08" x2="361.45" y2="486.08" stroke="#444" stroke-width="1.0"/>
<line x1="359.05" y1="465.76" x2="361.45" y2="465.76" stroke="#444" stroke-width="1.0"/>
<line x1="359.05" y1="445.44" x2="361.45" y2="445.44" stroke="#444" stroke-width="1.0"/>
<line x1="359.05" y1="425.12" x2="361.45" y2="425.12" stroke="#444" stroke-width="1.0"/>
<line x1="359.05" y1="404.8" x2="361.45" y2="404.8" stroke="#444" stroke-width="1.0"/>
<line x1="361.45" y1="506.4" x2="361.45" y2="508.8" stroke="#444" stroke-width="1.0"/>
<text x="361.45" y="517" font-size="7.4" text-anchor="middle" fill="#333">0</text>
<line x1="410.65" y1="506.4" x2="410.65" y2="508.8" stroke="#444" stroke-width="1.0"/>
<text x="410.65" y="517" font-size="7.4" text-anchor="middle" fill="#333">1</text>
<line x1="459.85" y1="506.4" x2="459.85" y2="508.8" stroke="#444" stroke-width="1.0"/>
<text x="459.85" y="517" font-size="7.4" text-anchor="middle" fill="#333">2</text>
<line x1="509.05" y1="506.4" x2="509.05" y2="508.8" stroke="#444" stroke-width="1.0"/>
<text x="509.05" y="517" font-size="7.4" text-anchor="middle" fill="#333">3</text>
<polyline points="361.45,404.8 410.65,485.06 459.85,502.84 509.05,502.84" fill="none" stroke="#8a8a8a" stroke-width="1.1" stroke-linejoin="round"/>
<polyline points="361.45,404.8 410.65,435.79 459.85,460.68 509.05,471.86" fill="none" stroke="#9a9a9a" stroke-width="1.15" stroke-dasharray="2.6,2.1" stroke-linejoin="round"/>
<polyline points="361.45,404.8 410.65,449.5 459.85,483.03 509.05,495.22" fill="none" stroke="#333" stroke-width="1.1" stroke-dasharray="3.6,2.4" stroke-linejoin="round"/>
<polyline points="361.45,404.8 410.65,477.95 459.85,497.76 509.05,501.32" fill="none" stroke="#111" stroke-width="1.15" stroke-linejoin="round"/>
<line x1="410.65" y1="429.49" x2="410.65" y2="442.09" stroke="#9a9a9a" stroke-width="1.25"/>
<line x1="409.15" y1="429.49" x2="412.15" y2="429.49" stroke="#9a9a9a" stroke-width="1.0"/>
<line x1="409.15" y1="442.09" x2="412.15" y2="442.09" stroke="#9a9a9a" stroke-width="1.0"/>
<line x1="459.85" y1="455.18" x2="459.85" y2="466.18" stroke="#9a9a9a" stroke-width="1.25"/>
<line x1="458.35" y1="455.18" x2="461.35" y2="455.18" stroke="#9a9a9a" stroke-width="1.0"/>
<line x1="458.35" y1="466.18" x2="461.35" y2="466.18" stroke="#9a9a9a" stroke-width="1.0"/>
<line x1="509.05" y1="465.56" x2="509.05" y2="478.16" stroke="#9a9a9a" stroke-width="1.25"/>
<line x1="507.55" y1="465.56" x2="510.55" y2="465.56" stroke="#9a9a9a" stroke-width="1.0"/>
<line x1="507.55" y1="478.16" x2="510.55" y2="478.16" stroke="#9a9a9a" stroke-width="1.0"/>
<line x1="410.65" y1="480.26" x2="410.65" y2="489.86" stroke="#8a8a8a" stroke-width="1.25"/>
<line x1="409.15" y1="480.26" x2="412.15" y2="480.26" stroke="#8a8a8a" stroke-width="1.0"/>
<line x1="409.15" y1="489.86" x2="412.15" y2="489.86" stroke="#8a8a8a" stroke-width="1.0"/>
<line x1="410.65" y1="440" x2="410.65" y2="459" stroke="#444" stroke-width="1.25"/>
<line x1="409.15" y1="440" x2="412.15" y2="440" stroke="#444" stroke-width="1.0"/>
<line x1="409.15" y1="459" x2="412.15" y2="459" stroke="#444" stroke-width="1.0"/>
<line x1="459.85" y1="481.53" x2="459.85" y2="484.53" stroke="#444" stroke-width="1.25"/>
<line x1="458.35" y1="481.53" x2="461.35" y2="481.53" stroke="#444" stroke-width="1.0"/>
<line x1="458.35" y1="484.53" x2="461.35" y2="484.53" stroke="#444" stroke-width="1.0"/>
<rect x="359.85" y="403.2" width="3.2" height="3.2" fill="#8a8a8a"/>
<rect x="409.05" y="483.46" width="3.2" height="3.2" fill="#8a8a8a"/>
<rect x="458.25" y="501.24" width="3.2" height="3.2" fill="#8a8a8a"/>
<rect x="507.45" y="501.24" width="3.2" height="3.2" fill="#8a8a8a"/>
<path d="M359.55,404.8 L363.35,404.8 M361.45,402.9 L361.45,406.7" stroke="#9a9a9a" stroke-width="1.3"/>
<path d="M408.75,435.79 L412.55,435.79 M410.65,433.89 L410.65,437.69" stroke="#9a9a9a" stroke-width="1.3"/>
<path d="M457.95,460.68 L461.75,460.68 M459.85,458.78 L459.85,462.58" stroke="#9a9a9a" stroke-width="1.3"/>
<path d="M507.15,471.86 L510.95,471.86 M509.05,469.96 L509.05,473.76" stroke="#9a9a9a" stroke-width="1.3"/>
<rect x="359.75" y="403.1" width="3.4" height="3.4" fill="#111"/>
<rect x="408.95" y="476.25" width="3.4" height="3.4" fill="#111"/>
<rect x="458.15" y="496.06" width="3.4" height="3.4" fill="#111"/>
<rect x="507.35" y="499.62" width="3.4" height="3.4" fill="#111"/>
<circle cx="410.65" cy="449.5" r="1.7" fill="#fff" stroke="#222" stroke-width="0.9"/>
<circle cx="459.85" cy="483.03" r="1.7" fill="#fff" stroke="#222" stroke-width="0.9"/>
<circle cx="509.05" cy="495.22" r="1.7" fill="#fff" stroke="#222" stroke-width="0.9"/>
<circle cx="361.45" cy="404.8" r="1.8" fill="#999"/>
<line x1="448.5" y1="407.3" x2="463.8" y2="407.3" stroke="#9a9a9a" stroke-width="1.0" stroke-dasharray="2.6,2"/>
<path d="M454.3,407.3 L458.1,407.3 M456.2,405.4 L456.2,409.2" stroke="#9a9a9a" stroke-width="1.3"/>
<text x="468.2" y="410.3" font-size="9.5" fill="#1b1b1b">Wild type</text>
<line x1="448.5" y1="419.3" x2="463.8" y2="419.3" stroke="#2a2a2a" stroke-width="1.0" stroke-dasharray="3.6,2.2"/>
<circle cx="456.2" cy="419.3" r="1.5" fill="#fff" stroke="#222" stroke-width="0.9"/>
<text x="468.2" y="422.4" font-size="9.5" fill="#1b1b1b"><tspan font-style="italic">MYC</tspan>10</text>
<line x1="448.5" y1="431.9" x2="463.8" y2="431.9" stroke="#111" stroke-width="1.3"/>
<circle cx="456.2" cy="431.9" r="1.9" fill="#111"/>
<text x="468.2" y="435.0" font-size="9.5" fill="#1b1b1b"><tspan font-style="italic">MYC</tspan>10<tspan font-size="7" dy="-4.4">hom</tspan></text>
<line x1="448.5" y1="444.2" x2="463.8" y2="444.2" stroke="#8a8a8a" stroke-width="1.2"/>
<rect x="454.5" y="442.5" width="3.4" height="3.4" fill="#8a8a8a"/>
<text x="468.2" y="447.3" font-size="9.5" fill="#1b1b1b"><tspan font-style="italic">MYC</tspan>17</text>
<text x="56.3" y="533.4" font-size="9.7" fill="#1b1b1b">Days</text>
<line x1="89.8" y1="529.9" x2="443" y2="529.9" stroke="#333" stroke-width="1.2"/>
<polygon points="447.8,529.9 442.5,527.6 442.5,532.2" fill="#111"/>
</svg>
</body></html>
